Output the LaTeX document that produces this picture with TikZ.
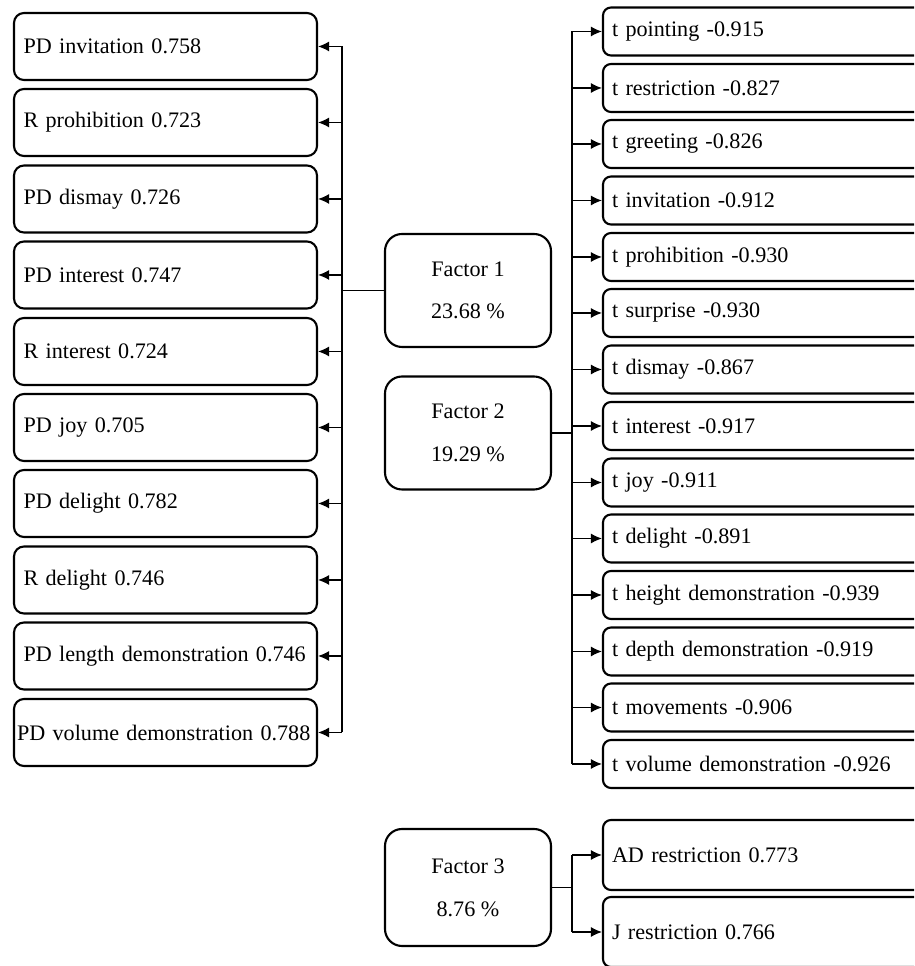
\documentclass[tikz,border=0pt]{standalone}
\usepackage{fontspec}
\setmainfont{Liberation Serif}
\usetikzlibrary{arrows.meta}
\begin{document}
\begin{tikzpicture}
    [
        font=\fontsize{12.6pt}{15.2pt}\selectfont,
        lbox/.style = {draw, shape=rectangle, rounded corners=0.2cm, minimum height=1.34cm, text width=5.68cm, inner xsep=0.19cm, align=left, line width=1.2pt},
        rbox/.style = {draw, shape=rectangle, rounded corners=0.16cm, minimum height=0.96cm, text width=6.28cm, inner xsep=0.18cm, align=left, line width=1.2pt},
        factor/.style = {draw, shape=rectangle, rounded corners=0.34cm, minimum height=2.26cm, minimum width=3.32cm, align=center, line width=1.2pt},
        link/.style = {line width=0.75pt},
        tip/.style = {link, -{Latex[length=2.2mm,width=2mm]}},
    ]

    \useasboundingbox (0,0) rectangle (18.28,19.32);
    \clip (0,0) rectangle (18.28,19.32);

    % factors
    \node[factor] (f1) at (9.36,13.51) {Factor 1\\[0.32cm]23.68 \%};
    \node[factor] (f2) at (9.36,10.66) {Factor 2\\[0.32cm]19.29 \%};
    \node[factor, minimum height=2.34cm] (f3) at (9.36,1.57) {Factor 3\\[0.32cm]8.76 \%};

    % factor 1 loadings
    \node[lbox] (l1) at (3.31,18.39) {PD invitation 0.758};
    \node[lbox] (l2) at (3.31,16.87) {R prohibition 0.723};
    \node[lbox] (l3) at (3.31,15.34) {PD dismay 0.726};
    \node[lbox] (l4) at (3.31,13.82) {PD interest 0.747};
    \node[lbox] (l5) at (3.31,12.29) {R interest 0.724};
    \node[lbox] (l6) at (3.31,10.77) {PD joy 0.705};
    \node[lbox] (l7) at (3.31,9.25)  {PD delight 0.782};
    \node[lbox] (l8) at (3.31,7.72)  {R delight 0.746};
    \node[lbox] (l9) at (3.31,6.20)  {PD length demonstration 0.746};
    \node[lbox, text width=5.94cm, inner xsep=0.06cm] (l10) at (3.31,4.67) {PD volume demonstration 0.788};

    % factor 2 loadings
    \node[rbox] (r1)  at (15.38,18.69) {t pointing -0.915};
    \node[rbox] (r2)  at (15.38,17.56) {t restriction -0.827};
    \node[rbox] (r3)  at (15.38,16.44) {t greeting -0.826};
    \node[rbox] (r4)  at (15.38,15.31) {t invitation -0.912};
    \node[rbox] (r5)  at (15.38,14.18) {t prohibition -0.930};
    \node[rbox] (r6)  at (15.38,13.06) {t surprise -0.930};
    \node[rbox] (r7)  at (15.38,11.93) {t dismay -0.867};
    \node[rbox] (r8)  at (15.38,10.80) {t interest -0.917};
    \node[rbox] (r9)  at (15.38,9.67)  {t joy -0.911};
    \node[rbox] (r10) at (15.38,8.55)  {t delight -0.891};
    \node[rbox] (r11) at (15.38,7.42)  {t height demonstration -0.939};
    \node[rbox] (r12) at (15.38,6.29)  {t depth demonstration -0.919};
    \node[rbox] (r13) at (15.38,5.17)  {t movements -0.906};
    \node[rbox] (r14) at (15.38,4.04)  {t volume demonstration -0.926};

    % factor 3 loadings
    \node[rbox, minimum height=1.4cm] (ad) at (15.38,2.22) {AD restriction 0.773};
    \node[rbox, minimum height=1.4cm] (jr) at (15.38,0.68) {J restriction 0.766};

    \coordinate (lbus) at (6.84,0);
    \coordinate (rbus) at (11.44,0);

    \draw [link] (f1.west) -- (lbus |- f1.west);
    \draw [link] (lbus |- l1.east) -- (lbus |- l10.east);
    \draw [tip] (lbus |- l1.east) -- (l1.east);
    \draw [tip] (lbus |- l2.east) -- (l2.east);
    \draw [tip] (lbus |- l3.east) -- (l3.east);
    \draw [tip] (lbus |- l4.east) -- (l4.east);
    \draw [tip] (lbus |- l5.east) -- (l5.east);
    \draw [tip] (lbus |- l6.east) -- (l6.east);
    \draw [tip] (lbus |- l7.east) -- (l7.east);
    \draw [tip] (lbus |- l8.east) -- (l8.east);
    \draw [tip] (lbus |- l9.east) -- (l9.east);
    \draw [tip] (lbus |- l10.east) -- (l10.east);

    \draw [link] (f2.east) -- (rbus |- f2.east);
    \draw [link] (rbus |- r1.west) -- (rbus |- r14.west);
    \draw [tip] (rbus |- r1.west) -- (r1.west);
    \draw [tip] (rbus |- r2.west) -- (r2.west);
    \draw [tip] (rbus |- r3.west) -- (r3.west);
    \draw [tip] (rbus |- r4.west) -- (r4.west);
    \draw [tip] (rbus |- r5.west) -- (r5.west);
    \draw [tip] (rbus |- r6.west) -- (r6.west);
    \draw [tip] (rbus |- r7.west) -- (r7.west);
    \draw [tip] (rbus |- r8.west) -- (r8.west);
    \draw [tip] (rbus |- r9.west) -- (r9.west);
    \draw [tip] (rbus |- r10.west) -- (r10.west);
    \draw [tip] (rbus |- r11.west) -- (r11.west);
    \draw [tip] (rbus |- r12.west) -- (r12.west);
    \draw [tip] (rbus |- r13.west) -- (r13.west);
    \draw [tip] (rbus |- r14.west) -- (r14.west);

    \draw [link] (f3.east) -- (rbus |- f3.east);
    \draw [link] (rbus |- ad.west) -- (rbus |- jr.west);
    \draw [tip] (rbus |- ad.west) -- (ad.west);
    \draw [tip] (rbus |- jr.west) -- (jr.west);
\end{tikzpicture}
\end{document}
